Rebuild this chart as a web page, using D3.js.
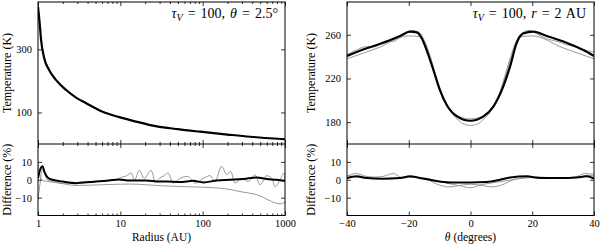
<!DOCTYPE html>
<html>
<head>
<meta charset="utf-8">
<script src="https://d3js.org/d3.v7.min.js"></script>
<style>
body {margin:0; background:#fff;}
svg text {font-family:'Liberation Serif','Times New Roman',serif; fill:#000;}
</style>
</head>
<body>
<svg id="chart" width="600" height="246"></svg>
<script>
// left, top: temperature vs radius
const radiusT = [1,1.04,1.09,1.19,1.37,1.65,2.2,2.9,3.8,6.1,9.7,15.5,23,50,93,200,376,1000];
const tempR   = [435,393,330,272,234,203,171,147,130,102,85,71,60,47,39,30,23,15];

// left, bottom: difference (%) vs radius
const radiusDiffBlack = [1,1.06,1.14,1.19,1.33,1.51,2.0,2.9,3.5,5.1,7.3,9.7,12.8,20.5,29.7,36.6,53,77,102,148,215,312,453,600,793,1000];
const diffBlackR      = [1,5.6,7.5,4.7,1,0,-1,-1.9,-1.5,-1,-0.4,0.2,-0.4,-0.4,-1,-1,-1.3,-0.6,-1.5,-0.4,0,0.4,1.3,0.4,0,-0.7];
const radiusDiffSmooth = [1,1.08,1.15,1.37,2.0,2.9,6.1,12.8,32.7,53,163,284,497,690,870,1000];
const diffSmoothR      = [9,1,-0.5,-1,-2.2,-3.2,-2.8,-2.4,-3.4,-3.8,-4.7,-6.6,-9,-12.2,-13.5,-12.5];
const radiusDiffNoisy = [1,1.06,1.13,1.3,1.5,2.0,3.5,6.1,8.6,10.5,11.7,13.6,14.8,17,19.5,23.6,26.6,31.2,33,37.9,43.6,53,66,81,102,123,141,170,196,219,247,298,358,432,497,600,690,756,870,972,1000];
const diffNoisyR      = [-11,-2,6,0,-1,-2,-1.8,-0.5,0,1.5,2,3.8,-0.4,5.3,0.8,5.3,-1,1.5,1.9,3.8,-1.9,0.8,1.9,-1.9,0.8,2.3,-1,7.5,2.8,4.7,-1.9,0.8,-1,2.8,-2.8,2.3,0.8,-3.8,0,3.8,-1];

// right, top: temperature vs theta
const thetaBlack = [-40,-33.6,-28.2,-22.8,-19.6,-17.4,-15.8,-14.2,-12,-9.9,-7.7,-4.5,0,4.1,7.4,10.6,12.8,14.9,17.1,20.3,24.7,31.1,36.5,40];
const tempBlack  = [240.6,247.6,252.7,258.9,262.8,262.2,256.8,246,227.7,209.4,195.7,185.6,181.3,185,194.2,212.5,230.8,252.2,261.3,262.8,258.9,252.7,246,240.6];
const thetaGrayA = [-40,-37,-34,-31,-28,-25,-22,-19,-16.5,-15,-13,-11,-9,-7,-4,-2,0,2,4,7,9,11,13,15,17,19,22,25,28,31,34,37,40];
const tempGrayA  = [242,246,249,249,254,254,260,264,262,255,240,220,203,192,182,178,177,178,182,192,203,221,240,255,262,264,260,256,254,251,249,246,244];
const thetaGrayB = [-40,-30,-20,-16,-14,-12,-10,-8,-5,0,5,8,10,12,14,16,20,30,40];
const tempGrayB  = [238,248,259,258,246,228,211,198,187,183,187,198,211,228,246,258,259,248,238];

// right, bottom: difference (%) vs theta
const thetaDiffBlack = [-40,-36.9,-33.6,-28.2,-22.8,-19.6,-16.4,-12,-6.6,-0.2,5.2,9.6,12.8,18.2,22.5,29,34.4,37.6,40];
const diffBlackT     = [1,1.9,1,0.6,1,1.9,1,-0.4,-1.5,-1.5,-1.3,0,1.3,1.9,1,1,1.3,1.9,0.6];
const thetaDiffA = [-40,-37,-34,-31,-28,-25,-22,-18,-14,-10,-7,-3,0,3,7,10,14,18,22,28,34,37,40];
const diffA      = [2,3.5,2,1.5,2,3.5,1,1.5,0,-3,-4,-3,-2.5,-3,-4,-3,0,1,1.5,1,1.5,3.5,3];
const thetaDiffB = [-40,-35,-30,-25,-20,-15,-10,-6,-3,0,3,6,10,15,20,30,35,38,40];
const diffB      = [2.5,1,0.5,1,1.5,1,-1,-2.5,-3.5,-4.5,-3,-2,-1,0.5,1.5,1,1.5,2.5,2];

const radiusTicks = [1,10,100,1000];
const tempTicksL = [100,300];
const tempTicksR = [180,220,260];
const diffTicks = [-10,0,10];
const thetaTicks = [-40,-20,0,20,40];

const FONT = "'Liberation Serif','Times New Roman',serif";
const svg = d3.select("#chart");
const Y0 = 2, YM = 144, Y1 = 215.5;
const LX0 = 38, LX1 = 285, RX0 = 347, RX1 = 594;
const GRAY = "#999";

var xr = d3.scaleLog().domain([1,1000]).range([LX0,LX1]);
var xt = d3.scaleLinear().domain([-40,40]).range([RX0,RX1]);
var yTl = d3.scaleLinear().domain([0,450]).range([YM,Y0]);
var yTr = d3.scaleLinear().domain([160,290]).range([YM,Y0]);
var yD = d3.scaleLinear().domain([-20,20]).range([Y1,YM]);

var minorR = [];
[1,10,100].forEach(function(d){ for (var k=2;k<10;k++) minorR.push(d*k); });

function minus(d) { return d < 0 ? "\u2212" + Math.abs(d) : String(d); }

function clip(id, x0, x1, y0, y1) {
  svg.append("clipPath").attr("id", id).append("rect")
    .attr("x", x0).attr("y", y0).attr("width", x1-x0).attr("height", y1-y0);
}
clip("cLT", LX0, LX1, Y0, YM);
clip("cLB", LX0, LX1, YM, Y1);
clip("cRT", RX0, RX1, Y0, YM);
clip("cRB", RX0, RX1, YM, Y1);

function drawLine(xs, ys, xScale, yScale, clipId, color, width) {
  var pts = xs.map(function(d,i){ return [d, ys[i]]; });
  svg.append("path")
    .datum(pts)
    .attr("clip-path", "url(#" + clipId + ")")
    .attr("fill", "none")
    .attr("stroke", color)
    .attr("stroke-width", width)
    .attr("stroke-linejoin", "round")
    .attr("d", d3.line().x(function(p){return xScale(p[0]);}).y(function(p){return yScale(p[1]);}).curve(d3.curveMonotoneX));
}

// gray lines first, black on top
drawLine(radiusDiffSmooth, diffSmoothR, xr, yD, "cLB", GRAY, 1);
drawLine(radiusDiffNoisy, diffNoisyR, xr, yD, "cLB", GRAY, 1);
drawLine(radiusDiffBlack, diffBlackR, xr, yD, "cLB", "#000", 2);
drawLine(radiusT, tempR, xr, yTl, "cLT", "#000", 2.2);

drawLine(thetaGrayA, tempGrayA, xt, yTr, "cRT", GRAY, 1);
drawLine(thetaGrayB, tempGrayB, xt, yTr, "cRT", GRAY, 1);
drawLine(thetaBlack, tempBlack, xt, yTr, "cRT", "#000", 2.2);
drawLine(thetaDiffA, diffA, xt, yD, "cRB", GRAY, 1);
drawLine(thetaDiffB, diffB, xt, yD, "cRB", GRAY, 1);
drawLine(thetaDiffBlack, diffBlackT, xt, yD, "cRB", "#000", 2);

// axes (inward ticks)
function noDomain(g) {
  g.attr("font-family", FONT).attr("font-size", 10.5);
  g.select(".domain").remove();
  g.selectAll(".tick line").attr("stroke","#000").attr("stroke-width",0.8);
  g.selectAll("text").style("font-family", FONT).attr("fill","#000");
}

function xAxis(scale, y, vals, size, fmt) {
  var ax = d3.axisBottom(scale).tickValues(vals).tickSize(size).tickPadding(4).tickFormat(fmt || "");
  return svg.append("g").attr("transform","translate(0," + y + ")").call(ax).call(noDomain);
}
function yAxis(scale, x0, x1, vals) {
  svg.append("g").attr("transform","translate(" + x0 + ",0)")
    .call(d3.axisLeft(scale).tickValues(vals).tickSize(-4).tickPadding(6).tickFormat(minus)).call(noDomain);
  svg.append("g").attr("transform","translate(" + x1 + ",0)")
    .call(d3.axisRight(scale).tickValues(vals).tickSize(-4).tickFormat("")).call(noDomain);
}

// left panels
[[Y0,4],[YM,-4],[YM,4]].forEach(function(p){
  xAxis(xr, p[0], radiusTicks, p[1]);
  xAxis(xr, p[0], minorR, p[1]/2);
});
xAxis(xr, Y1, minorR, -2);
xAxis(xr, Y1, radiusTicks, -4, d3.format("d"));
yAxis(yTl, LX0, LX1, tempTicksL);
yAxis(yD, LX0, LX1, diffTicks);

// right panels
[[Y0,4],[YM,-4],[YM,4]].forEach(function(p){ xAxis(xt, p[0], thetaTicks, p[1]); });
xAxis(xt, Y1, thetaTicks, -4, minus);
yAxis(yTr, RX0, RX1, tempTicksR);
yAxis(yD, RX0, RX1, diffTicks);

// frames
[[LX0,LX1],[RX0,RX1]].forEach(function(p){
  svg.append("rect").attr("x",p[0]).attr("y",Y0).attr("width",p[1]-p[0]).attr("height",Y1-Y0)
    .attr("fill","none").attr("stroke","#000").attr("stroke-width",1);
  svg.append("line").attr("x1",p[0]).attr("x2",p[1]).attr("y1",YM).attr("y2",YM)
    .attr("stroke","#000").attr("stroke-width",1);
});

// axis titles
function vLabel(x, y, txt) {
  svg.append("text").attr("transform","translate(" + x + "," + y + ") rotate(-90)")
    .attr("text-anchor","middle").attr("font-size", 12).style("font-family", FONT).text(txt);
}
vLabel(10.5, (Y0+YM)/2, "Temperature (K)");
vLabel(10.5, (YM+Y1)/2, "Difference (%)");
vLabel(315, (Y0+YM)/2, "Temperature (K)");
vLabel(315, (YM+Y1)/2, "Difference (%)");

svg.append("text").attr("x",(LX0+LX1)/2).attr("y",241).attr("text-anchor","middle")
  .attr("font-size",11.5).style("font-family", FONT).text("Radius (AU)");
var tl = svg.append("text").attr("x",(RX0+RX1)/2).attr("y",241).attr("text-anchor","middle")
  .attr("font-size",11.5).style("font-family", FONT);
tl.append("tspan").attr("font-style","italic").text("\u03b8");
tl.append("tspan").text(" (degrees)");

// annotations
function note(xEnd, parts) {
  var t = svg.append("text").attr("x", xEnd).attr("y", 18).attr("text-anchor","end")
    .attr("font-size", 14).attr("word-spacing", 1.5).style("font-family", FONT);
  parts.forEach(function(p){
    var s = t.append("tspan").text(p[0]);
    if (p[1] === "i") s.attr("font-style","italic");
    if (p[1] === "sub") s.attr("font-style","italic").attr("font-size", 10).attr("dy", 2.5);
    if (p[1] === "up") s.attr("dy", -2.5);
  });
}
note(278, [["\u03c4","i"],["V","sub"],[" = 100, ","up"],["\u03b8","i"],[" = 2.5\u00b0",""]]);
note(586, [["\u03c4","i"],["V","sub"],[" = 100, ","up"],["r","i"],[" = 2 AU",""]]);
</script>
</body>
</html>
